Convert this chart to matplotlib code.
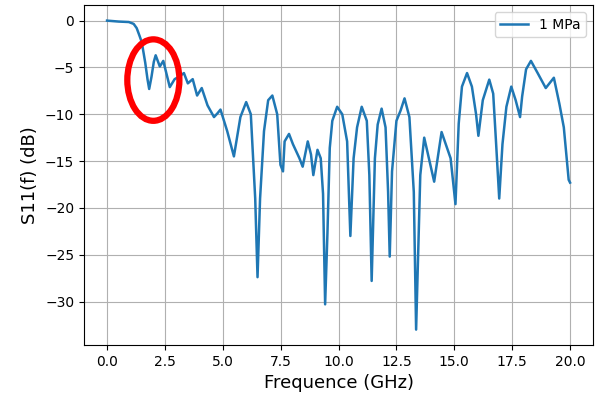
import matplotlib
matplotlib.use("Agg")
import matplotlib.pyplot as plt
from matplotlib.patches import Ellipse

# valeurs (GHz, dB)
freq = [0.0, 0.5, 0.94, 1.15, 1.28, 1.4, 1.5, 1.65, 1.75, 1.82, 1.92, 2.02, 2.1, 2.28, 2.43,
        2.6, 2.71, 2.92, 3.1, 3.32, 3.49, 3.7, 3.89, 4.09, 4.34, 4.62, 4.77, 4.9, 5.19,
        5.48, 5.76, 6.01, 6.21, 6.4, 6.5, 6.61, 6.78, 6.96, 7.14, 7.35, 7.49, 7.6, 7.67,
        7.86, 8.03, 8.31, 8.45, 8.67, 8.81, 8.91, 9.09, 9.23, 9.33, 9.42, 9.52, 9.62, 9.73,
        9.94, 10.16, 10.37, 10.51, 10.65, 10.8, 11.0, 11.22, 11.33, 11.43, 11.57, 11.69,
        11.86, 12.03, 12.14, 12.21, 12.31, 12.5, 12.68, 12.85, 13.06, 13.25, 13.35, 13.53,
        13.7, 14.13, 14.45, 14.84, 15.05, 15.19, 15.33, 15.55, 15.76, 15.94, 16.04, 16.23,
        16.51, 16.68, 16.8, 16.94, 17.08, 17.25, 17.46, 17.65, 17.84, 17.93, 18.1, 18.31,
        18.6, 18.95, 19.3, 19.54, 19.73, 19.94, 20.0]
s11 = [0.0, -0.1, -0.15, -0.35, -0.8, -1.6, -2.3, -4.5, -6.3, -7.3, -6.0, -4.4, -3.7, -4.9, -4.3,
       -6.0, -7.1, -6.25, -6.0, -5.6, -6.7, -6.25, -8.0, -7.2, -9.05, -10.3, -9.9, -9.5, -11.8,
       -14.5, -10.3, -8.7, -10.0, -19.0, -27.4, -19.0, -11.8, -8.5, -8.0, -10.0, -15.4, -16.1,
       -12.9, -12.1, -13.2, -14.7, -15.6, -12.9, -14.3, -16.5, -13.8, -14.7, -18.5, -30.3,
       -22.7, -13.6, -10.7, -9.2, -10.0, -12.9, -23.0, -14.7, -11.4, -9.2, -10.7, -16.5,
       -27.8, -14.7, -11.1, -9.4, -11.4, -18.3, -25.2, -16.1, -10.7, -9.6, -8.3, -10.3,
       -18.3, -33.0, -16.5, -12.5, -17.2, -11.9, -14.7, -19.6, -11.0, -7.05, -5.6, -7.05,
       -10.0, -12.3, -8.5, -6.3, -7.8, -12.9, -19.0, -13.2, -9.2, -7.05, -8.5, -10.3, -8.1,
       -5.2, -4.3, -5.6, -7.2, -6.1, -8.9, -11.4, -17.0, -17.3]

fig = plt.figure(figsize=(5.95, 3.98), dpi=100)
ax = fig.add_axes([0.141, 0.133, 0.856, 0.854])
ax.plot(freq, s11, color="#1f77b4", linewidth=1.8, label="1 MPa")
ax.grid(True)
ax.legend(loc="upper right")
ax.set_xlabel("Frequence (GHz)", fontsize=13)
ax.set_ylabel("S11(f) (dB)", fontsize=13)
ax.set_xticks([0, 2.5, 5, 7.5, 10, 12.5, 15, 17.5, 20])
ax.set_yticks([0, -5, -10, -15, -20, -25, -30])

# cercle rouge autour de la zone 1.5-3 GHz
ax.add_patch(Ellipse((2.0, -6.35), 2.25, 8.7, fill=False, edgecolor="red",
                     linewidth=4.5, clip_on=False, zorder=5))

fig.savefig("out.png", dpi=100)
